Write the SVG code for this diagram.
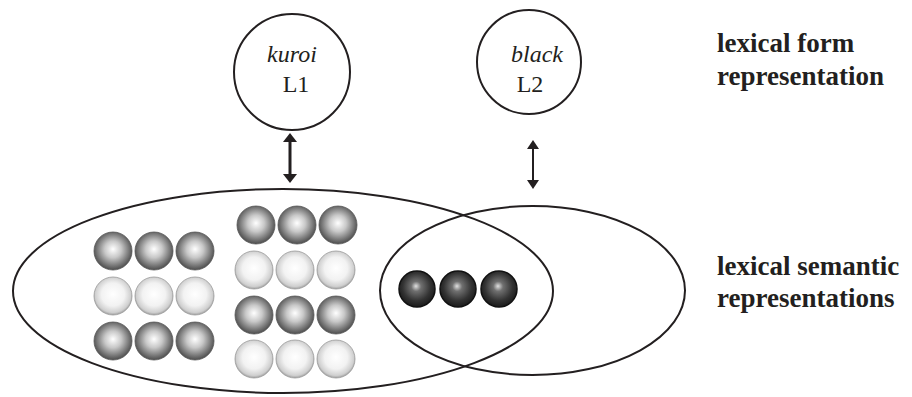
<svg xmlns="http://www.w3.org/2000/svg" width="912" height="397" viewBox="0 0 912 397">
<rect width="912" height="397" fill="#ffffff"/>
<g id="labels" fill="#231f20" font-family="Liberation Serif" font-size="27" font-weight="bold">
<text x="717" y="52">lexical form</text>
<text x="717" y="85">representation</text>
<text x="717" y="275">lexical semantic</text>
<text x="717" y="307">representations</text>
</g>
<g id="form-L1">
<circle cx="292" cy="72" r="58" fill="none" stroke="#231f20" stroke-width="2"/>
<text font-family="Liberation Serif" font-size="24" font-style="italic" fill="#231f20" text-anchor="middle" x="292" y="62">kuroi</text>
<text font-family="Liberation Serif" font-size="24" fill="#231f20" text-anchor="middle" x="296" y="92">L1</text>
</g>
<g id="form-L2">
<circle cx="529" cy="62" r="52" fill="none" stroke="#231f20" stroke-width="2"/>
<text font-family="Liberation Serif" font-size="24" font-style="italic" fill="#231f20" text-anchor="middle" x="537" y="62">black</text>
<text font-family="Liberation Serif" font-size="24" fill="#231f20" text-anchor="middle" x="530" y="92">L2</text>
</g>
<radialGradient id="gDark" cx="0.5" cy="0.47" r="0.55" fx="0.5" fy="0.45">
<stop offset="0" stop-color="#ffffff"/>
<stop offset="0.4" stop-color="#c8c8c8"/>
<stop offset="0.8" stop-color="#707070"/>
<stop offset="1" stop-color="#454545"/>
</radialGradient>
<radialGradient id="gLight" cx="0.5" cy="0.47" r="0.55" fx="0.5" fy="0.45">
<stop offset="0" stop-color="#ffffff"/>
<stop offset="0.55" stop-color="#f2f2f2"/>
<stop offset="0.85" stop-color="#cfcfcf"/>
<stop offset="1" stop-color="#8f8f8f"/>
</radialGradient>
<radialGradient id="gBlack" cx="0.5" cy="0.45" r="0.55" fx="0.47" fy="0.42">
<stop offset="0" stop-color="#e0e0e0"/>
<stop offset="0.25" stop-color="#707070"/>
<stop offset="0.7" stop-color="#333333"/>
<stop offset="1" stop-color="#1a1a1a"/>
</radialGradient>

<g id="semantic-L1" fill="none" stroke="#231f20" stroke-width="2">
<ellipse cx="283" cy="291" rx="270" ry="102"/>
</g>
<g id="semantic-L2" fill="none" stroke="#231f20" stroke-width="2">
<ellipse cx="532.5" cy="290.5" rx="152.5" ry="84.5"/>
</g>

<g id="balls-left" stroke-width="0.8">
<g fill="url(#gDark)" stroke="#555"><circle cx="113" cy="251" r="19"/><circle cx="154" cy="251" r="19"/><circle cx="195" cy="251" r="19"/>
<circle cx="113" cy="341" r="19"/><circle cx="154" cy="341" r="19"/><circle cx="195" cy="341" r="19"/></g>
<g fill="url(#gLight)" stroke="#999"><circle cx="113" cy="296" r="19"/><circle cx="154" cy="296" r="19"/><circle cx="195" cy="296" r="19"/></g>
</g>
<g id="balls-middle" stroke-width="0.8">
<g fill="url(#gDark)" stroke="#555"><circle cx="256" cy="225" r="19"/><circle cx="297" cy="225" r="19"/><circle cx="338" cy="225" r="19"/>
<circle cx="254" cy="315" r="19"/><circle cx="295" cy="315" r="19"/><circle cx="336" cy="315" r="19"/></g>
<g fill="url(#gLight)" stroke="#999"><circle cx="254" cy="270" r="19"/><circle cx="295" cy="270" r="19"/><circle cx="336" cy="270" r="19"/>
<circle cx="254" cy="359" r="19"/><circle cx="295" cy="359" r="19"/><circle cx="336" cy="359" r="19"/></g>
</g>
<g id="balls-shared" fill="url(#gBlack)" stroke="#111" stroke-width="1.5">
<circle cx="417" cy="289" r="18"/><circle cx="458" cy="289" r="18"/><circle cx="499" cy="289" r="18"/>
</g>

<g id="connectors" fill="#231f20" stroke="#231f20">
<line x1="290" y1="141" x2="290" y2="175" stroke-width="3"/>
<path d="M283,142 L290,133 L297,142 Z" stroke="none"/>
<path d="M283,174 L290,183 L297,174 Z" stroke="none"/>
<line x1="533" y1="147" x2="533" y2="182" stroke-width="2"/>
<path d="M527,149 L533,140 L539,149 Z" stroke="none"/>
<path d="M527,180 L533,189 L539,180 Z" stroke="none"/>
</g>
</svg>
